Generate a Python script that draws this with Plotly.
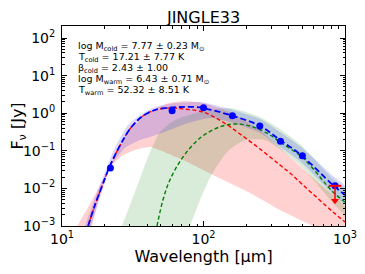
import plotly.graph_objects as go

# ---------------- data ----------------
obs_wave = [22, 60, 100, 160, 250, 350, 500, 850]
obs_flux = [0.035, 1.166, 1.40, 0.857, 0.457, 0.18, 0.074, 0.0117]

ul_wave = [850]
ul_flux = [0.0117]
ul_arrow_end = [0.0047]

total_wave = [15.3, 17.1, 19.2, 21.5, 24.1, 27.0, 30.2, 34.4, 39.2, 45.4, 53.4, 68.2, 87.1, 99.2,
              153.8, 251, 347, 489, 822, 1000]
total_flux = [0.001, 0.00362, 0.0116, 0.0349, 0.0874, 0.194, 0.380, 0.659, 0.952, 1.217, 1.375,
              1.462, 1.462, 1.375, 0.896, 0.457, 0.194, 0.0773, 0.0123, 0.00667]

warm_wave = [15.3, 17.1, 19.2, 21.5, 24.1, 27.0, 30.2, 34.4, 39.2, 45.4, 53.4, 62.9, 71.6, 99.2,
             137, 181, 251, 347, 408, 505, 822, 1000]
warm_flux = [0.001, 0.00362, 0.0116, 0.0349, 0.0874, 0.194, 0.380, 0.659, 0.952, 1.21, 1.36,
             1.37, 1.30, 1.076, 0.583, 0.280, 0.1117, 0.0419, 0.0257, 0.0123, 0.00236, 0.00128]

cold_wave = [46.9, 51.7, 57.9, 71.6, 94.5, 124.5, 161.5, 213, 281, 347, 505, 822, 1000]
cold_flux = [0.001, 0.00491, 0.0167, 0.0684, 0.219, 0.404, 0.516, 0.457, 0.297, 0.171, 0.0643,
             0.00802, 0.00435]

warm_hi_wave = [12.8, 17.1, 22.6, 29.8, 41.2, 57.0, 74.0, 99.2, 153.8, 251, 408, 666, 1000]
warm_hi_flux = [0.001, 0.00667, 0.0504, 0.316, 1.076, 1.866, 2.11, 1.866, 1.076, 0.357, 0.0684,
                0.0131, 0.0032]
warm_lo_wave = [16.3, 18.6, 21.5, 26.5, 32.8, 37.4, 41.9, 71.6, 105.9, 213, 347, 594, 1000]
warm_lo_flux = [0.001, 0.0071, 0.0328, 0.0727, 0.105, 0.1186, 0.126, 0.0569, 0.0273, 0.00755,
                0.00267, 0.001, 0.00035]

cold_hi_wave = [26.5, 32.8, 41.9, 49.3, 62.9, 94.5, 153.8, 251, 347, 489, 822, 1000]
cold_hi_flux = [0.001, 0.00802, 0.0929, 0.316, 0.659, 1.076, 1.375, 0.792, 0.380, 0.1427,
                0.0178, 0.00964]
cold_lo_wave = [80.3, 94.5, 111, 146.6, 196, 272, 377, 521, 822, 1000]
cold_lo_flux = [0.001, 0.00491, 0.0189, 0.0929, 0.194, 0.194, 0.0874, 0.0308, 0.0041, 0.00208]

total_hi_wave = [14.5, 16.3, 18.3, 20.5, 22.9, 25.7, 29.3, 35.6, 45.4, 62.9, 94.5, 153.8, 251,
                 347, 489, 822, 1000]
total_hi_flux = [0.001, 0.0034, 0.01089, 0.0328, 0.0929, 0.219, 0.486, 0.896, 1.462, 1.866,
                 1.986, 1.294, 0.701, 0.316, 0.126, 0.0214, 0.0116]
total_lo_wave = [16.0, 18.0, 19.8, 21.8, 27.9, 35.6, 41.9, 53.4, 74.0, 111, 153.8, 251, 347,
                 489, 822, 1000]
total_lo_flux = [0.001, 0.00385, 0.0116, 0.0349, 0.1186, 0.194, 0.233, 0.316, 0.516, 0.745,
                 0.583, 0.297, 0.126, 0.0504, 0.0071, 0.00385]

fit_labels = [
    "log M<sub>cold</sub> = 7.77 ± 0.23 M<sub>⊙</sub>",
    "T<sub>cold</sub> = 17.21 ± 7.77 K",
    "β<sub>cold</sub> = 2.43 ± 1.00",
    "log M<sub>warm</sub> = 6.43 ± 0.71 M<sub>⊙</sub>",
    "T<sub>warm</sub> = 52.32 ± 8.51 K",
]

x_tickvals = [10, 100, 1000]
x_ticktext = ["10<sup>1</sup>", "10<sup>2</sup>", "10<sup>3</sup>"]
y_tickvals = [1e-3, 1e-2, 1e-1, 1, 10, 100]
y_ticktext = ["10<sup>−3</sup>", "10<sup>−2</sup>", "10<sup>−1</sup>",
              "10<sup>0</sup>", "10<sup>1</sup>", "10<sup>2</sup>"]

FONT = "DejaVu Sans"

fig = go.Figure()


def band(hw, hf, lw, lf, color):
    fig.add_trace(go.Scatter(
        x=hw + lw[::-1], y=hf + lf[::-1], fill="toself", fillcolor=color,
        line=dict(width=0, shape="spline", smoothing=0.6), mode="lines",
        hoverinfo="skip", showlegend=False))


band(warm_hi_wave, warm_hi_flux, warm_lo_wave, warm_lo_flux, "rgba(255,0,0,0.18)")
band(cold_hi_wave, cold_hi_flux, cold_lo_wave, cold_lo_flux, "rgba(0,128,0,0.15)")
band(total_hi_wave, total_hi_flux, total_lo_wave, total_lo_flux, "rgba(0,0,255,0.15)")

fig.add_trace(go.Scatter(x=warm_wave, y=warm_flux, mode="lines",
                         line=dict(color="red", width=1.4, dash="4px,2.5px", shape="spline"),
                         showlegend=False))
fig.add_trace(go.Scatter(x=cold_wave, y=cold_flux, mode="lines",
                         line=dict(color="green", width=1.4, dash="4px,2.5px", shape="spline"),
                         showlegend=False))
fig.add_trace(go.Scatter(x=total_wave, y=total_flux, mode="lines",
                         line=dict(color="blue", width=1.8, dash="6px,3px", shape="spline"),
                         showlegend=False))
fig.add_trace(go.Scatter(x=obs_wave, y=obs_flux, mode="markers",
                         marker=dict(color="blue", size=7, symbol="circle"),
                         showlegend=False))
# upper limit arrow
fig.add_trace(go.Scatter(x=ul_wave + ul_wave, y=ul_flux + ul_arrow_end, mode="lines",
                         line=dict(color="red", width=1.5), showlegend=False))
fig.add_trace(go.Scatter(x=ul_wave, y=ul_arrow_end, mode="markers",
                         marker=dict(color="red", size=7, symbol="triangle-down"),
                         showlegend=False))
fig.add_trace(go.Scatter(x=ul_wave, y=ul_flux, mode="markers",
                         marker=dict(color="red", size=9, symbol="line-ew",
                                     line=dict(color="red", width=2)),
                         showlegend=False))

for i, txt in enumerate(fit_labels):
    fig.add_annotation(text=txt, xref="paper", yref="paper", x=0.05, y=0.9 - i * 0.056,
                       xanchor="left", yanchor="middle", showarrow=False,
                       font=dict(family=FONT, size=9.5, color="black"))

minor_x = [m * 10 ** e for e in range(1, 3) for m in range(2, 10)]
minor_y = [m * 10.0 ** e for e in range(-3, 2) for m in range(2, 10)]

axis_common = dict(showline=True, linecolor="black", linewidth=1, mirror="allticks",
                   ticks="inside", ticklen=5, tickwidth=1, tickcolor="black",
                   showgrid=False, zeroline=False, tickmode="array", automargin=False,
                   tickfont=dict(family=FONT, size=14, color="black"))

fig.update_xaxes(type="log", range=[1, 3], tickvals=x_tickvals, ticktext=x_ticktext,
                 minor=dict(ticks="inside", ticklen=2.5, tickcolor="black", tickvals=minor_x),
                 title=dict(text="Wavelength [µm]", font=dict(family=FONT, size=16, color="black"),
                            standoff=4),
                 **axis_common)
fig.update_yaxes(type="log", range=[-3, 2.32], tickvals=y_tickvals, ticktext=y_ticktext,
                 minor=dict(ticks="inside", ticklen=2.5, tickcolor="black", tickvals=minor_y),
                 title=dict(text="F<sub>ν</sub> [Jy]", font=dict(family=FONT, size=16, color="black"),
                            standoff=4),
                 ticklabelstandoff=3,
                 **axis_common)

# page body has an 8px default margin: compensate so the plot area lands at x 62-345, y 26-226
fig.update_layout(
    width=357, height=266,
    margin=dict(l=54, r=20, t=18, b=48, autoexpand=False),
    paper_bgcolor="white", plot_bgcolor="white",
    title=dict(text="JINGLE33", x=0.5, xref="paper", y=1 - 9 / 266, yanchor="middle",
               automargin=False, font=dict(family=FONT, size=16, color="black")),
    font=dict(family=FONT, color="black"),
    showlegend=False,
)

fig.write_html("out.html")
